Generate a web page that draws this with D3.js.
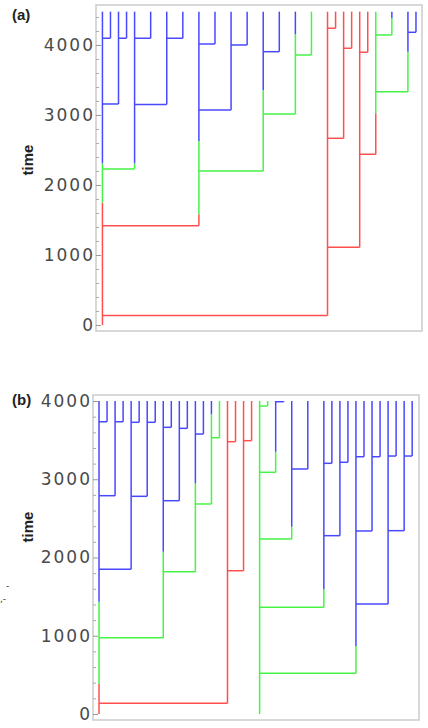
<!DOCTYPE html>
<html><head><meta charset="utf-8">
<script src="https://cdn.jsdelivr.net/npm/d3@7"></script>
<style>body{margin:0;background:#fff}svg{display:block}</style>
</head><body>
<svg id="c" width="428" height="728"></svg>
<script>
// ---------- Panel (a) data ----------
const aSlot   = [0,1,2,3,4,6,8,10,12,14,16,18,20,22,24,26,28,29,30,31,32,33,34,36,38,39];
const aParent = [null,0,0,2,0,4,4,8,0,12,12,16,12,20,20,24,0,28,28,30,28,32,32,34,34,38];
const aBirth  = [0,4096,3157,4096,2229,4096,3151,4096,1419,4014,3071,4000,2200,3904,3014,3857,136,4239,2667,3953,1110,3896,2439,4143,3333,4181];
const aGreen  = [1747,4096,3157,4096,2229,4096,3151,4096,1581,4014,3071,4000,2200,3904,3014,3857,null,null,null,null,null,null,3024,4143,3333,4181];
const aBlue   = [2310,4096,3157,4096,2310,4096,3151,4096,2629,4014,3071,4000,3357,3904,4153,null,null,null,null,null,null,null,null,4381,3904,4181];
const aEnd = 4476;

// ---------- Panel (b) data ----------
const bSlot   = [0,1,2,3,4,5,6,7,8,9,10,11,12,13,14,15,16,17,18,19,20,21,22,23,24,26,28,29,30,31,32,33,34,35,36,37,38,39];
const bParent = [null,0,0,2,0,4,4,6,0,8,8,10,8,12,12,14,0,16,16,18,null,20,20,22,20,24,20,28,28,30,20,32,32,34,32,36,36,38];
const bBirth  = [0,3735,2790,3735,1849,3728,2782,3728,975,3664,2726,3651,1819,3578,2684,3531,137,3480,1831,3493,0,3936,3089,3991,2236,3131,1364,3204,2279,3217,520,3288,2339,3288,1406,3297,2343,3297];
const bGreen  = [383,3735,2790,3735,1849,3728,2782,3728,975,3664,2726,3651,1819,3578,2684,3531,null,null,null,null,0,3936,3089,3991,2236,3131,1364,3204,2279,3217,520,3288,2339,3288,1406,3297,2343,3297];
const bBlue   = [1435,3735,2790,3735,1849,3728,2782,3728,2074,3664,2726,3651,2948,3578,3830,null,null,null,null,null,null,null,3352,3991,2394,3131,1594,3204,2279,3217,869,3288,2339,3288,1406,3297,2343,3297];
const bEnd = 4000;

// ---------- ticks ----------
const majorTicks = [0,1000,2000,3000,4000];
const minorTicksA = [200,400,600,800,1200,1400,1600,1800,2200,2400,2600,2800,3200,3400,3600,3800,4200,4400];
const minorTicksB = [200,400,600,800,1200,1400,1600,1800,2200,2400,2600,2800,3200,3400,3600,3800];

const COLORS = {red:"#ff4f4f", green:"#46f346", blue:"#4848ff"};
const svg = d3.select("#c");

function stateAt(i, t, greens, blues){
  if (blues[i] != null && t >= blues[i]) return "blue";
  if (greens[i] != null && t >= greens[i]) return "green";
  return "red";
}

function panel(o){
  const g = svg.append("g");
  const x = d3.scaleLinear().domain(o.xDomain).range([o.frame.l, o.frame.r]);
  const y = d3.scaleLinear().domain(o.yDomain).range([o.frame.b, o.frame.t]);

  // frame
  g.append("rect").attr("x", o.frame.l).attr("y", o.frame.t)
    .attr("width", o.frame.r - o.frame.l).attr("height", o.frame.b - o.frame.t)
    .attr("fill","none").attr("stroke","#cfcfcf").attr("stroke-width",1.6);

  // minor ticks
  const minor = g.append("g").attr("transform",`translate(${o.frame.l},0)`)
    .call(d3.axisLeft(y).tickValues(o.minor).tickSize(-3).tickFormat(""));
  minor.select(".domain").remove();
  minor.selectAll("line").attr("stroke","#aaa");

  // major ticks + labels
  const major = g.append("g").attr("transform",`translate(${o.frame.l},0)`)
    .call(d3.axisLeft(y).tickValues(majorTicks).tickSize(-5).tickPadding(1).tickFormat(d3.format("d")));
  major.select(".domain").remove();
  major.selectAll("line").attr("stroke","#999");
  major.selectAll("text").attr("font-family","DejaVu Sans").attr("font-size",17)
    .attr("letter-spacing","2px").attr("fill","#4a4a4a");

  // lineages
  const lines = g.append("g").attr("fill","none").attr("stroke-width",1.5);
  o.slots.forEach((s,i)=>{
    const b = o.births[i];
    if (o.parents[i] != null){
      lines.append("line")
        .attr("x1", x(o.parents[i])).attr("x2", x(s))
        .attr("y1", y(b)).attr("y2", y(b))
        .attr("stroke", COLORS[stateAt(i, b, o.greens, o.blues)]);
    }
    const pts = [b];
    [o.greens[i], o.blues[i]].forEach(v=>{ if (v!=null && v>b && v<o.end) pts.push(v); });
    pts.push(o.end);
    pts.sort((p,q)=>p-q);
    for (let k=0;k<pts.length-1;k++){
      if (pts[k+1] <= pts[k]) continue;
      lines.append("line")
        .attr("x1", x(s)).attr("x2", x(s))
        .attr("y1", y(pts[k])).attr("y2", y(pts[k+1]))
        .attr("stroke", COLORS[stateAt(i, pts[k], o.greens, o.blues)]);
    }
  });

  g.append("text").attr("x", o.labelX).attr("y", o.labelY).text(o.label)
    .attr("font-family","Liberation Sans").attr("font-weight","bold").attr("font-size",15).attr("fill","#222");
  g.append("text").attr("transform",`translate(33,${o.timeY}) rotate(-90)`)
    .attr("text-anchor","middle").text("time")
    .attr("font-family","Liberation Sans").attr("font-weight","bold").attr("font-size",15).attr("fill","#222");
}

panel({slots:aSlot, parents:aParent, births:aBirth, greens:aGreen, blues:aBlue, end:aEnd,
  frame:{l:96, r:422, t:5, b:331}, xDomain:[-0.8,39.75], yDomain:[-86,4571],
  minor:minorTicksA, label:"(a)", labelX:12, labelY:20, timeY:160});

panel({slots:bSlot, parents:bParent, births:bBirth, greens:bGreen, blues:bBlue, end:bEnd,
  frame:{l:93, r:419, t:395, b:720}, xDomain:[-0.75,39.85], yDomain:[-77,4077],
  minor:minorTicksB, label:"(b)", labelX:12, labelY:405, timeY:527});

// stray marks at the left edge of the reference image
svg.append("text").attr("x",6).attr("y",589).text("-")
  .attr("font-family","DejaVu Sans").attr("font-size",9).attr("fill","#333");
svg.append("text").attr("x",0).attr("y",602).text(",-")
  .attr("font-family","DejaVu Sans").attr("font-size",9).attr("fill","#333");
</script>
</body></html>
